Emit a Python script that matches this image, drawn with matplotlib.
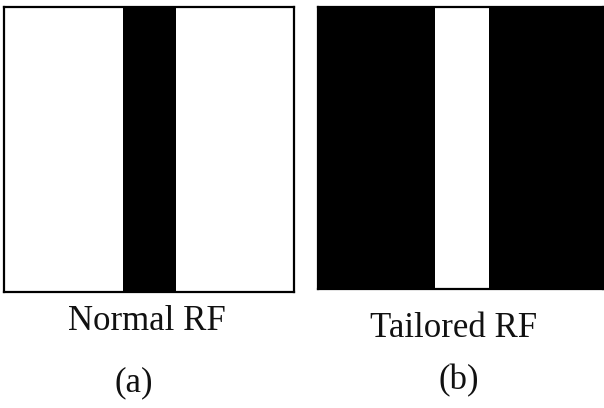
import matplotlib
matplotlib.use("Agg")
import matplotlib.pyplot as plt

# Data: receptive-field bands (fraction of panel width)
panels = ["a", "b"]
titles = ["Normal RF", "Tailored RF"]
labels = ["(a)", "(b)"]
band_start = [0.41, 0.41]
band_end = [0.593, 0.60]
background = ["white", "black"]
band_color = ["black", "white"]

W, H = 604, 408
fig = plt.figure(figsize=(W / 100, H / 100), dpi=100)
plt.rcParams['font.family'] = ['Liberation Serif', 'DejaVu Serif']

# axes boxes in pixel coordinates (left, top, right, bottom)
boxes = [(4, 7, 294, 292), (318, 7, 603, 289)]
title_pos = [(147, 330), (454, 337)]
label_pos = [(134, 383), (459, 381)]

for i in range(2):
    l, t, r, b = boxes[i]
    ax = fig.add_axes([l / W, (H - b) / H, (r - l) / W, (b - t) / H])
    ax.set_facecolor(background[i])
    ax.bar([(band_start[i] + band_end[i]) / 2], [1],
           width=band_end[i] - band_start[i], bottom=0,
           color=band_color[i], edgecolor='none')
    ax.set_xlim(0, 1)
    ax.set_ylim(0, 1)
    ax.set_xticks([])
    ax.set_yticks([])
    for s in ax.spines.values():
        s.set_linewidth(1.6)
        s.set_color('black')
    tx, ty = title_pos[i]
    fig.text(tx / W, (H - ty) / H, titles[i], ha='center', va='baseline',
             fontsize=25, color='#111111')
    lx, ly = label_pos[i]
    fig.text(lx / W, (H - ly) / H, labels[i], ha='center', va='center',
             fontsize=25, color='#111111')

fig.savefig("out.png", dpi=100)
